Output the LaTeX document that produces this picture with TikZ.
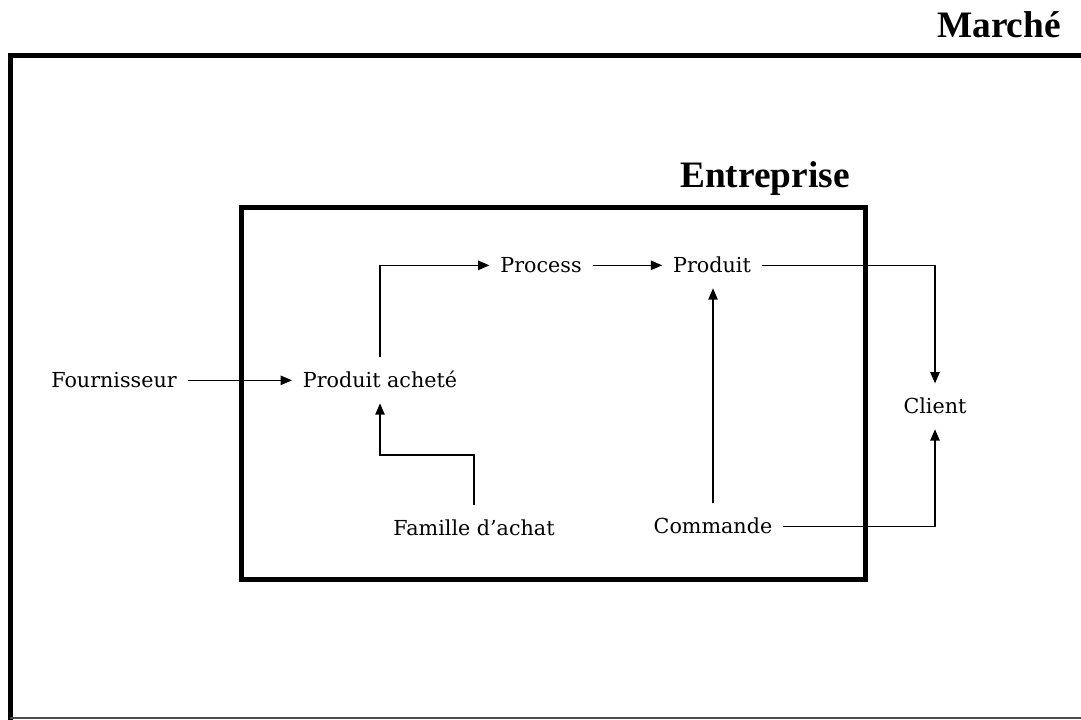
\documentclass[tikz,border=0pt]{standalone}
\usepackage{fontspec}
\setmainfont{DejaVu Serif}
\newfontfamily\titlefont{Liberation Serif}
\usetikzlibrary{arrows.meta,calc}
\tikzset{
  lbl/.style={font=\fontsize{15.5}{18}\selectfont, text height=10pt, text depth=0pt, inner xsep=8pt, inner ysep=12pt, anchor=base},
  ttl/.style={font=\titlefont\bfseries\fontsize{28}{32}\selectfont, anchor=base, inner sep=0pt},
  conn/.style={line width=1.1pt, -{Triangle[length=8.5pt,width=7pt]}},
  frame/.style={line width=3.75pt}
}
\begin{document}
\begin{tikzpicture}[x=0.75pt,y=-0.75pt]
\useasboundingbox (0,0) rectangle (1081,719);
\begin{scope}
\clip (0,0) rectangle (1081,719);
% outer box (Marché)
\draw[frame] (10,760) -- (10,55.5) -- (1120,55.5);
\draw[line width=1.2pt, black!70] (10,718) -- (1081,718);
\end{scope}
\node[ttl] (marche) at (999,37) {Marché};
% inner box (Entreprise)
\draw[frame] (241.5,207) rectangle (865.5,579.5);
\node[ttl] (entr) at (765,187) {Entreprise};
% labels
\node[lbl] (four) at (114,387) {Fournisseur};
\node[lbl] (pa) at (380,387) {Produit acheté};
\node[lbl] (proc) at (541,272) {Process};
\node[lbl] (prod) at (712,272) {Produit};
\node[lbl] (cli) at (935,413) {Client};
\node[lbl] (fam) at (474,535) {Famille d’achat};
\node[lbl] (cmd) at (713,533) {Commande};
\coordinate (famb) at (0,455);
% connectors
\draw[conn] (four.east) -- (pa.west);
\draw[conn] (pa.north) |- (proc.west);
\draw[conn] (proc.east) -- (prod.west);
\draw[conn] (prod.east) -| (cli.north);
\draw[conn] (fam.north) -- (fam.north |- famb) -| (pa.south);
\draw[conn] (cmd.north) -- (cmd.north |- prod.south);
\draw[conn] (cmd.east) -| (cli.south);
\end{tikzpicture}
\end{document}
